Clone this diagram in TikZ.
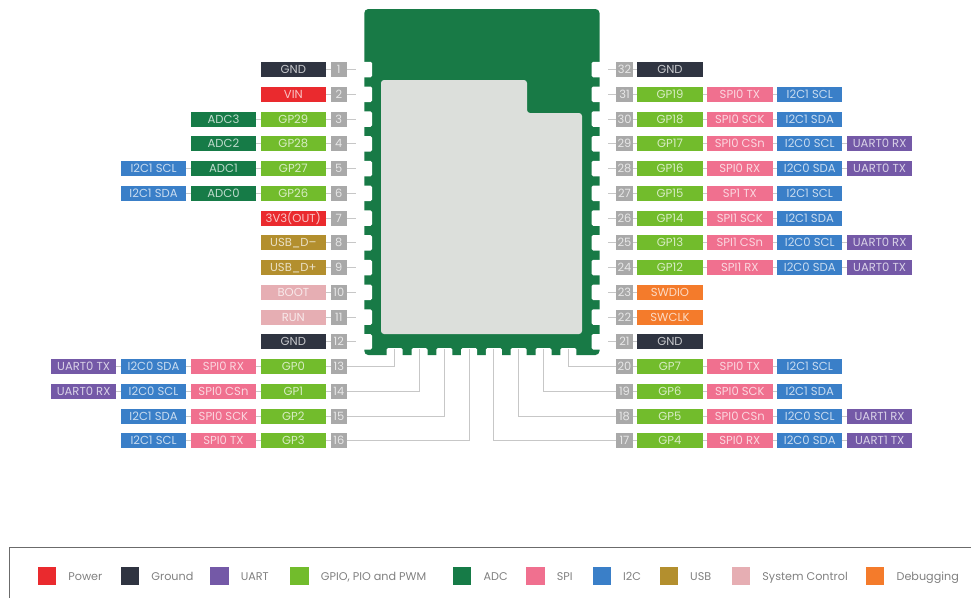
\documentclass[tikz,border=0pt]{standalone}
\usepackage{fontspec}
\setmainfont{Poppins}
\usetikzlibrary{positioning}
\definecolor{cpower}{HTML}{EA2A2E}
\definecolor{cgnd}{HTML}{2F3441}
\definecolor{cuart}{HTML}{7459A7}
\definecolor{cgpio}{HTML}{72BC2C}
\definecolor{cadc}{HTML}{167B47}
\definecolor{cspi}{HTML}{F0708F}
\definecolor{ci2c}{HTML}{3A7FC8}
\definecolor{cusb}{HTML}{B38F2E}
\definecolor{csys}{HTML}{E6AEB3}
\definecolor{cdebug}{HTML}{F47B2B}
\definecolor{cnum}{HTML}{A9A9A9}
\definecolor{cboard}{HTML}{187A46}
\definecolor{cinner}{HTML}{DCDFDB}
\tikzset{
  pinbox/.style={minimum width=65.4pt, minimum height=15pt, inner sep=0pt, outer sep=0pt,
    text height=8pt, text depth=0pt,
    text=white, text opacity=0.72, font=\fontsize{11.6}{13}\selectfont},
  numbox/.style={fill=cnum, minimum width=16.5pt, minimum height=15pt, inner sep=0pt, outer sep=0pt,
    text height=8pt, text depth=0pt,
    text=white, text opacity=0.72, font=\fontsize{11.4}{13}\selectfont},
  notch/.style={fill=white, rounded corners=1.5pt, inner sep=0pt, outer sep=0pt},
  link/.style={draw=black!22, line width=0.9pt},
  wire/.style={draw=black!22, line width=0.9pt, shorten >=1pt},
  legkey/.style={minimum size=18.4pt, inner sep=0pt, outer sep=0pt},
  legtext/.style={inner sep=0pt, text height=8pt, text depth=0pt, text=black!50,
    font=\fontsize{11.2}{13}\selectfont},
}
\begin{document}
\begin{tikzpicture}[x=1pt,y=-1pt]
  \useasboundingbox (0,0) rectangle (971,598);

  % board
  \fill[cboard, rounded corners=4pt] (364.3,9) rectangle (599.5,355);
  \fill[cinner, rounded corners=3pt] (381,80) -- (527,80) -- (527,113) -- (582,113)
    -- (582,334) -- (381,334) -- cycle;

  % left pins
  \foreach \num/\labels in {
    1/{GND/gnd}, 2/{VIN/power}, 3/{GP29/gpio,ADC3/adc}, 4/{GP28/gpio,ADC2/adc},
    5/{GP27/gpio,ADC1/adc,I2C1 SCL/i2c}, 6/{GP26/gpio,ADC0/adc,I2C1 SDA/i2c},
    7/{3V3(OUT)/power}, 8/{USB\_D--/usb}, 9/{USB\_D+/usb}, 10/{BOOT/sys}, 11/{RUN/sys}, 12/{GND/gnd},
    13/{GP0/gpio,SPI0 RX/spi,I2C0 SDA/i2c,UART0 TX/uart},
    14/{GP1/gpio,SPI0 CSn/spi,I2C0 SCL/i2c,UART0 RX/uart},
    15/{GP2/gpio,SPI0 SCK/spi,I2C1 SDA/i2c},
    16/{GP3/gpio,SPI0 TX/spi,I2C1 SCL/i2c}} {
    \node[numbox] (l\num-0) at (338.8,{69.5+24.75*(\num-1)}) {\num};
    \foreach \lab/\kind [count=\i from 1, remember=\i as \j (initially 0)] in \labels {
      \node[pinbox, fill=c\kind, left=4.5pt of l\num-\j] (l\num-\i) {\lab};
      \draw[link] (l\num-\j) -- (l\num-\i);
    }
  }

  % right pins
  \foreach \num/\labels in {
    32/{GND/gnd}, 31/{GP19/gpio,SPI0 TX/spi,I2C1 SCL/i2c}, 30/{GP18/gpio,SPI0 SCK/spi,I2C1 SDA/i2c},
    29/{GP17/gpio,SPI0 CSn/spi,I2C0 SCL/i2c,UART0 RX/uart},
    28/{GP16/gpio,SPI0 RX/spi,I2C0 SDA/i2c,UART0 TX/uart},
    27/{GP15/gpio,SP1 TX/spi,I2C1 SCL/i2c}, 26/{GP14/gpio,SPI1 SCK/spi,I2C1 SDA/i2c},
    25/{GP13/gpio,SPI1 CSn/spi,I2C0 SCL/i2c,UART0 RX/uart},
    24/{GP12/gpio,SPI1 RX/spi,I2C0 SDA/i2c,UART0 TX/uart},
    23/{SWDIO/debug}, 22/{SWCLK/debug}, 21/{GND/gnd},
    20/{GP7/gpio,SPI0 TX/spi,I2C1 SCL/i2c}, 19/{GP6/gpio,SPI0 SCK/spi,I2C1 SDA/i2c},
    18/{GP5/gpio,SPI0 CSn/spi,I2C0 SCL/i2c,UART1 RX/uart},
    17/{GP4/gpio,SPI0 RX/spi,I2C0 SDA/i2c,UART1 TX/uart}} {
    \node[numbox] (r\num-0) at (624.5,{69.5+24.75*(32-\num)}) {\num};
    \foreach \lab/\kind [count=\i from 1, remember=\i as \j (initially 0)] in \labels {
      \node[pinbox, fill=c\kind, right=4.5pt of r\num-\j] (r\num-\i) {\lab};
      \draw[link] (r\num-\j) -- (r\num-\i);
    }
  }

  % castellated pads, side rows
  \foreach \num in {1,...,12} {
    \node[notch, minimum width=15pt, minimum height=15.5pt] (n\num) at (364.5,{69.5+24.75*(\num-1)}) {};
    \draw[wire] (l\num-0) -- (n\num);
  }
  \foreach \num in {21,...,32} {
    \node[notch, minimum width=15pt, minimum height=15.5pt] (n\num) at (599.2,{69.5+24.75*(32-\num)}) {};
    \draw[wire] (r\num-0) -- (n\num);
  }

  % castellated pads, bottom row
  \foreach \num/\k in {13/0,14/1,15/2,16/3,17/4,18/5,19/6,20/7} {
    \node[notch, minimum width=16pt, minimum height=15pt] (n\num) at ({394.7+24.8*\k},355.5) {};
  }
  \foreach \num in {13,...,16} {
    \draw[wire] (l\num-0.east) -| (n\num.north);
  }
  \foreach \num in {17,...,20} {
    \draw[wire] (r\num-0.west) -| (n\num.north);
  }

  % legend
  \draw[black!58, line width=1pt] (9.5,598) -- (9.5,547.5) -- (971,547.5);
  \foreach \kind/\xpos/\name in {power/47/Power, gnd/130/Ground, uart/219.4/UART,
    gpio/299.5/{GPIO, PIO and PWM}, adc/462.2/ADC, spi/535.4/SPI, i2c/601.8/I2C,
    usb/668.8/USB, sys/741/System Control, debug/875.2/Debugging} {
    \node[legkey, fill=c\kind] (key\kind) at (\xpos,576) {};
    \node[legtext, right=12pt of key\kind] (name\kind) {\name};
  }
\end{tikzpicture}
\end{document}
